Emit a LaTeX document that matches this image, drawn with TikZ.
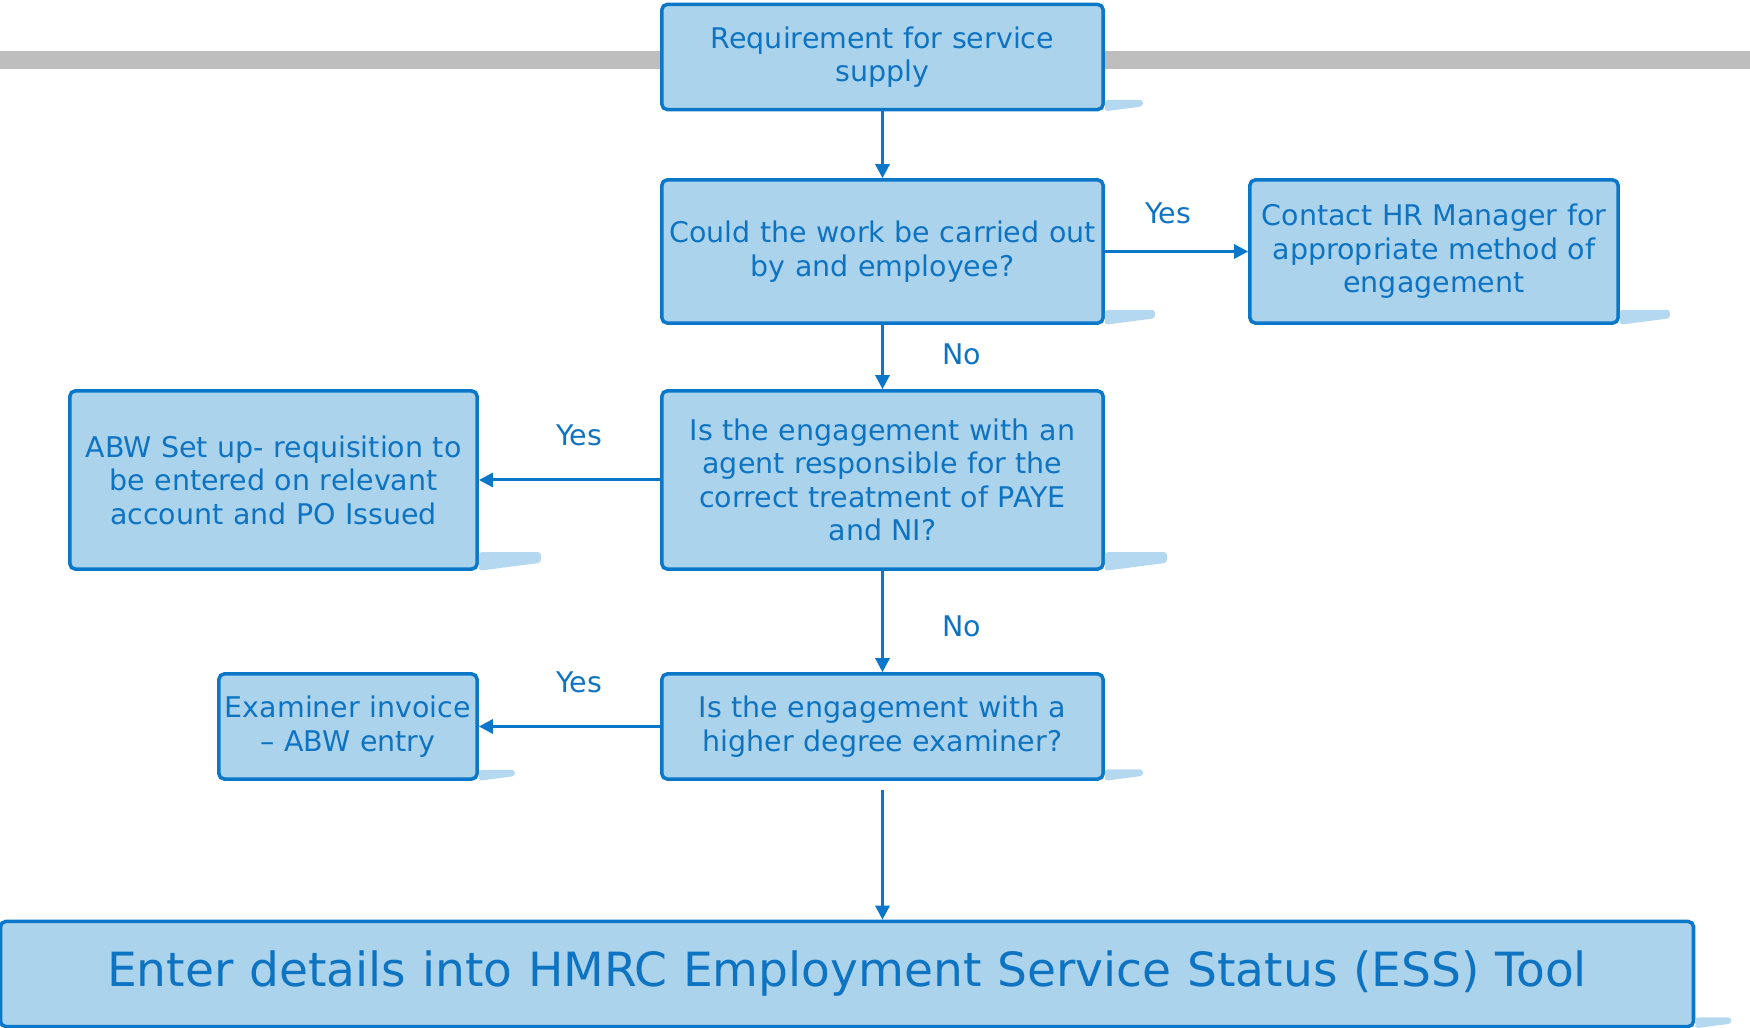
\documentclass[tikz,border=0pt]{standalone}
\usepackage{fontspec}
\setmainfont{DejaVu Sans}
\usetikzlibrary{arrows.meta,calc}

\definecolor{boxline}{HTML}{0B77C8}
\definecolor{boxfill}{HTML}{ACD3EC}
\definecolor{boxtext}{HTML}{0E74C2}
\definecolor{boxshade}{HTML}{B3D8EF}
\definecolor{barcol}{HTML}{BEBEBE}

\begin{document}
\begin{tikzpicture}[x=0.01cm,y=-0.01cm,
    flowbox/.style={draw=boxline, fill=boxfill, line width=1pt, rounded corners=1.5pt,
      text=boxtext, align=center, inner sep=0pt, font=\fontsize{8.1}{9.5}\selectfont},
    flowarrow/.style={draw=boxline, line width=0.85pt, -{Triangle[width=4pt,length=4pt]}},
    answer/.style={text=boxtext, font=\fontsize{8.1}{9.5}\selectfont}]

    % Fix the page size
    \useasboundingbox (0,0) rectangle (1750,1028);

    % Grey band behind the first step
    \fill[barcol] (0,51) rectangle (1750,69);

    % Define the steps of the process
    \node[flowbox, text width=4.35cm, minimum width=4.41cm, minimum height=1.05cm]
        (req) at (882.5,57) {Requirement for service\\supply};
    \node[flowbox, text width=4.35cm, minimum width=4.41cm, minimum height=1.43cm]
        (work) at (882.5,251.5) {Could the work be carried out\\by and employee?};
    \node[flowbox, text width=3.62cm, minimum width=3.68cm, minimum height=1.43cm]
        (hr) at (1434,251.5) {Contact HR Manager for\\appropriate method of\\engagement};
    \node[flowbox, text width=4.35cm, minimum width=4.41cm, minimum height=1.78cm]
        (agent) at (882.5,480) {Is the engagement with an\\agent responsible for the\\correct treatment of PAYE\\and NI?};
    \node[flowbox, text width=4.02cm, minimum width=4.07cm, minimum height=1.78cm]
        (abw) at (273.5,480) {ABW Set up- requisition to\\be entered on relevant\\account and PO Issued};
    \node[flowbox, text width=4.35cm, minimum width=4.41cm, minimum height=1.05cm]
        (hdex) at (882.5,726.5) {Is the engagement with a\\higher degree examiner?};
    \node[flowbox, text width=2.56cm, minimum width=2.58cm, minimum height=1.05cm]
        (exam) at (348,726.5) {Examiner invoice\\– ABW entry};
    \node[flowbox, text width=16.8cm, minimum width=16.92cm, minimum height=1.05cm,
        font=\fontsize{13.4}{15}\selectfont]
        (hmrc) at (847,974) {Enter details into HMRC Employment Service Status (ESS) Tool};

    % Shadows under the right corners
    \foreach \n/\w in {req/38, work/50, hr/50, agent/62, abw/62, hdex/38, exam/36, hmrc/36} {
        \fill[boxshade, rounded corners=0.8pt]
            ($(\n.south east)+(0,0)$) -- ++(\w,{-0.13*\w}) -- ++(0,{-0.17*\w}) -- ($(\n.south east)+(0,{-0.3*\w})$) -- cycle;
    }

    % Free start of the last arrow
    \coordinate (hdexout) at ($(hdex.south)+(0,9)$);

    % Draw the connections
    \draw[flowarrow] (req) -- (work);
    \draw[flowarrow] (work) -- (hr);
    \draw[flowarrow] (work) -- (agent);
    \draw[flowarrow] (agent) -- (abw);
    \draw[flowarrow] (agent) -- (hdex);
    \draw[flowarrow] (hdex) -- (exam);
    \draw[flowarrow] (hdexout) -- (hdexout |- hmrc.north);

    % Answers on the connections
    \node[answer] (yeshr) at (1168,213) {Yes};
    \node[answer] (noagent) at (962,354) {No};
    \node[answer] (yesabw) at (579,435) {Yes};
    \node[answer] (nohdex) at (962,626) {No};
    \node[answer] (yesexam) at (579,682) {Yes};

\end{tikzpicture}
\end{document}
